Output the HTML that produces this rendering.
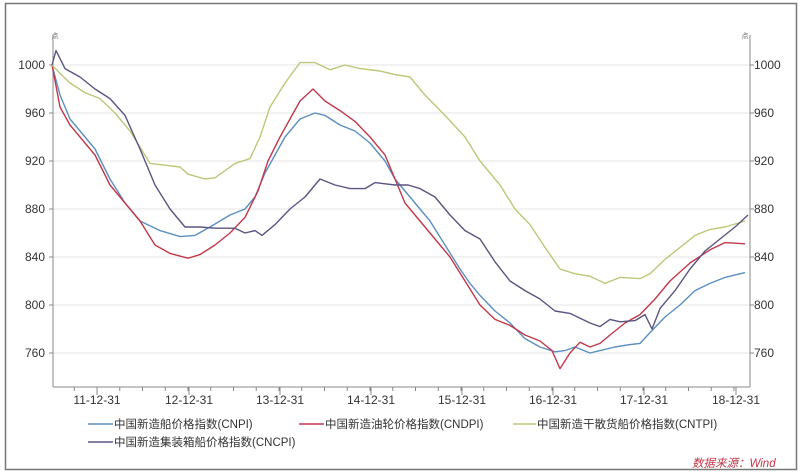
<!DOCTYPE html>
<html><head><meta charset="utf-8"><style>
body{margin:0;background:#fff;}
svg{display:block;font-family:"Liberation Sans","Noto Sans CJK SC",sans-serif;}
</style></head><body>
<svg id="s" width="800" height="475" xmlns="http://www.w3.org/2000/svg">
<rect x="0" y="0" width="800" height="475" fill="#fff"/>
<rect x="5.5" y="3.5" width="791" height="466" fill="none" stroke="#777" stroke-width="1.5"/>
<g id="grid" stroke="#e6e6e6" stroke-width="1"></g>
<line x1="53" y1="35" x2="53" y2="387" stroke="#888"/>
<line x1="750" y1="35" x2="750" y2="387" stroke="#888"/>
<line x1="53" y1="387" x2="750" y2="387" stroke="#888"/>
<text x="55" y="38" font-size="7" fill="#666" text-anchor="middle">点</text>
<text x="745" y="38" font-size="7" fill="#666" text-anchor="middle">点</text>
<g id="ticks" stroke="#888"></g>
<g id="labels" font-size="12" fill="#333"></g>
<g id="series" fill="none" stroke-width="1.4" stroke-linejoin="round"></g>
<g font-size="11.5" fill="#333">
<line x1="88" y1="424" x2="113" y2="424" stroke="#5b8fc0" stroke-width="1.5"/><text x="114" y="428">中国新造船价格指数(CNPI)</text>
<line x1="299" y1="424" x2="324" y2="424" stroke="#c0394a" stroke-width="1.5"/><text x="325" y="428">中国新造油轮价格指数(CNDPI)</text>
<line x1="513" y1="424" x2="536" y2="424" stroke="#b9c978" stroke-width="1.5"/><text x="537" y="428">中国新造干散货船价格指数(CNTPI)</text>
<line x1="88" y1="442" x2="113" y2="442" stroke="#5c5480" stroke-width="1.5"/><text x="114" y="446">中国新造集装箱船价格指数(CNCPI)</text>
</g>
<text x="692" y="467" font-size="11.5" font-style="italic" fill="#c0394a">数据来源：Wind</text>
</svg>
<script>
const NS="http://www.w3.org/2000/svg";
function el(p,t,a,txt){const e=document.createElementNS(NS,t);for(const k in a)e.setAttribute(k,a[k]);if(txt)e.textContent=txt;document.getElementById(p).appendChild(e);}
const Y=v=>65+(1000-v)*1.2;
[1000,960,920,880,840,800,760].forEach(v=>{
 el("grid","line",{x1:53,x2:750,y1:Y(v),y2:Y(v)});
 el("labels","text",{x:45,y:Y(v)+4,"text-anchor":"end"},v);
 el("labels","text",{x:754,y:Y(v)+4},v);
 el("ticks","line",{x1:49,x2:53,y1:Y(v),y2:Y(v)});
 el("ticks","line",{x1:750,x2:754,y1:Y(v),y2:Y(v)});
});
const lx=[97,189,280,371,462,553,644,736];
lx.forEach((x,i)=>{el("labels","text",{x:x,y:404,"text-anchor":"middle"},(11+i)+"-12-31");});
for(let x=lx[0]-91;x<=752;x+=22.75){if(x>=53)el("ticks","line",{x1:x,x2:x,y1:387,y2:391});}
lx.forEach(x=>el("ticks","line",{x1:x,x2:x,y1:387,y2:395}));
const S={
"#5b8fc0":[52,1000,60,975,70,955,80,945,95,930,110,905,125,885,140,870,160,862,180,857,195,858,210,865,230,875,245,880,255,890,265,910,275,925,285,940,300,955,315,960,325,958,340,950,355,945,370,935,385,920,395,905,405,895,415,885,430,870,445,850,460,830,470,818,480,808,495,795,510,785,525,772,540,765,555,761,565,762,575,765,590,760,600,762,615,765,630,767,640,768,650,777,665,790,680,800,695,812,710,818,725,823,745,827],
"#c0394a":[52,1000,60,965,70,950,80,940,95,925,110,900,125,885,140,870,155,850,170,843,188,839,200,842,215,850,230,860,245,873,258,895,268,920,280,940,290,955,300,970,313,980,325,970,340,962,355,953,370,940,385,925,395,905,405,885,420,870,435,855,450,840,465,820,480,800,495,788,510,783,525,775,540,770,552,762,560,747,570,760,580,769,590,765,600,768,610,775,625,785,640,792,655,805,670,820,690,835,710,846,725,852,745,851],
"#b9c978":[52,1000,60,993,70,985,85,977,100,972,115,960,130,945,150,918,170,916,180,915,188,909,205,905,215,906,235,918,250,922,260,940,270,965,285,985,300,1002,315,1002,330,996,345,1000,360,997,380,995,395,992,410,990,425,975,445,958,465,940,480,920,500,900,515,880,530,867,545,848,560,830,575,826,590,824,605,818,620,823,640,822,650,826,665,838,680,848,695,858,710,863,725,865,745,870],
"#5c5480":[52,1000,56,1012,65,997,80,990,95,980,110,972,125,958,140,930,155,900,170,880,185,865,200,865,215,864,235,864,245,860,255,862,262,858,275,867,290,880,305,890,320,905,335,900,350,897,365,897,375,902,395,900,408,900,420,897,435,890,450,875,465,862,480,855,495,836,510,820,525,812,540,805,555,795,570,793,590,785,600,782,610,788,620,786,635,787,645,792,652,780,660,797,675,812,690,830,705,845,720,855,735,865,748,875]};
for(const c in S){const a=S[c];let p=[];for(let i=0;i<a.length;i+=2)p.push(a[i]+","+Y(a[i+1]).toFixed(1));el("series","polyline",{points:p.join(" "),stroke:c});}
</script>
</body></html>
